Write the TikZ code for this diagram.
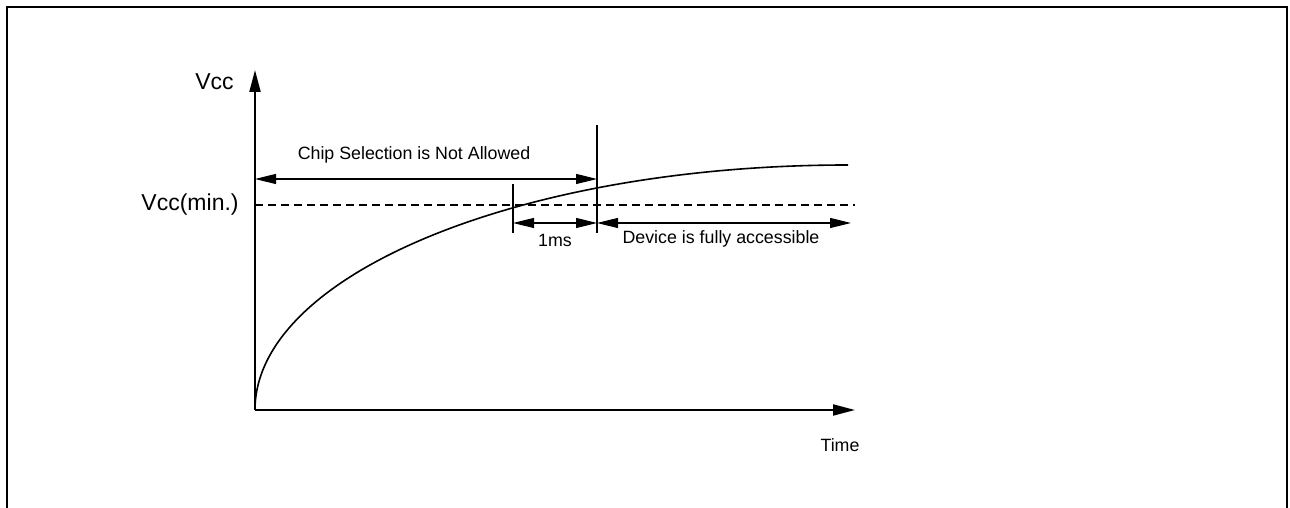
\documentclass[tikz,border=0pt]{standalone}
\usepackage{fontspec}
\setmainfont{Liberation Sans}
\usetikzlibrary{arrows.meta}
\newcommand{\ax}{296.5pt}
\newcommand{\by}{122.5pt}
\tikzstyle{cadre}=[line width=1pt]
\tikzstyle{axe}=[line width=1pt,-{Triangle[length=11pt,width=5.5pt]}]
\tikzstyle{cote}=[line width=0.6pt,{Triangle[length=10.5pt,width=5pt]}-{Triangle[length=10.5pt,width=5pt]}]
\tikzstyle{repere}=[line width=0.65pt]
\tikzstyle{seuil}=[line width=0.6pt,dash pattern=on 4pt off 2.5pt]
\tikzstyle{courbe}=[line width=0.8pt]
\tikzstyle{noeud}=[minimum size=0, inner sep=0]
\tikzstyle{grand}=[inner sep=0,font=\fontsize{11.5}{13}\selectfont]
\tikzstyle{petit}=[inner sep=0,font=\fontsize{8.9}{11}\selectfont]
\begin{document}
\begin{tikzpicture}[x=0.5pt,y=0.5pt]
\useasboundingbox (0,0) rectangle (1290,508);

%cadre
\draw[cadre] (7,0) -- (7,501) -- (1287,501) -- (1287,0);

%axes
\node[noeud](O) at (255,98) {};
\coordinate (Ytop) at (255,438);
\coordinate (Xend) at (855,98);
\draw[axe] (O.center) -- (Ytop);
\draw[axe] (O.center) -- (Xend);
\node[grand,anchor=east](vcc) at (234,426) {Vcc};
\node[petit](time) at (840,63) {Time};

%seuil
\coordinate (S0) at (255,303);
\coordinate (S1) at (855,303);
\draw[seuil] (S0) -- (S1);
\node[grand,anchor=east](vmin) at (239,303) {Vcc(min.)};

%courbe
\draw[courbe] (O.center) arc[start angle=180,end angle=90,x radius=\ax,y radius=\by];

%reperes
\coordinate (A0) at (513,275);
\coordinate (A1) at (513,324);
\coordinate (B0) at (597,275);
\coordinate (B1) at (597,383);
\draw[repere] (A0) -- (A1);
\draw[repere] (B0) -- (B1);

%cotes
\coordinate (C0) at (255,329);
\coordinate (C1) at (597,329);
\draw[cote] (C0) -- (C1);
\node[petit](chip) at (414,353) {Chip Selection is Not Allowed};

\coordinate (D0) at (513,285);
\coordinate (D1) at (597,285);
\coordinate (D2) at (851,285);
\draw[cote] (D0) -- (D1);
\draw[cote] (D1) -- (D2);
\node[petit](ms) at (555,268) {1ms};
\node[petit](dev) at (721,269) {Device is fully accessible};
\end{tikzpicture}
\end{document}
